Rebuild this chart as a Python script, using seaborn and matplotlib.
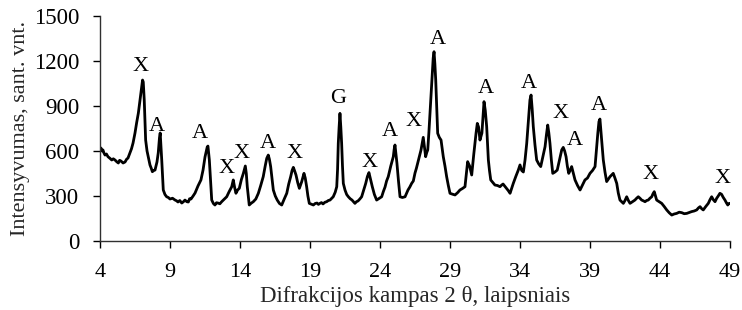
import matplotlib
matplotlib.use("Agg")
import matplotlib.pyplot as plt
import seaborn as sns
import pandas as pd

# 2-theta angle (degrees) and intensity
two_theta = [
    4.07, 4.14, 4.21, 4.29, 4.36, 4.46, 4.57, 4.7, 4.84, 4.95, 5.07, 5.2, 5.31, 5.4, 5.5, 5.65, 5.79,
    5.9, 6.0, 6.14, 6.25, 6.36, 6.5, 6.62, 6.74, 6.86, 6.93, 7.0, 7.04, 7.09, 7.16, 7.26, 7.36, 7.45,
    7.57, 7.66, 7.74, 7.84, 7.93, 8.07, 8.16, 8.25, 8.3, 8.41, 8.52, 8.64, 8.76, 8.88, 9.0, 9.18, 9.36,
    9.47, 9.57, 9.7, 9.84, 9.96, 10.07, 10.2, 10.31, 10.4, 10.5, 10.65, 10.79, 11.0, 11.21, 11.36, 11.5,
    11.66, 11.71, 11.81, 11.98, 12.1, 12.21, 12.32, 12.43, 12.56, 12.69, 12.87, 13.05, 13.23, 13.41,
    13.52, 13.61, 13.71, 13.83, 13.95, 14.1, 14.24, 14.38, 14.45, 14.52, 14.66, 14.8, 14.95, 15.13,
    15.31, 15.48, 15.66, 15.8, 15.91, 16.02, 16.1, 16.19, 16.38, 16.52, 16.66, 16.82, 16.98, 17.16,
    17.34, 17.48, 17.62, 17.72, 17.81, 17.9, 18.0, 18.12, 18.24, 18.41, 18.57, 18.66, 18.76, 18.85,
    18.95, 19.1, 19.24, 19.37, 19.5, 19.6, 19.71, 19.82, 19.93, 20.06, 20.19, 20.31, 20.43, 20.55,
    20.66, 20.8, 20.91, 20.97, 21.02, 21.08, 21.14, 21.2, 21.26, 21.32, 21.38, 21.5, 21.62, 21.74,
    21.87, 22.0, 22.1, 22.21, 22.32, 22.43, 22.56, 22.69, 22.84, 22.98, 23.1, 23.21, 23.33, 23.45,
    23.6, 23.76, 23.94, 24.12, 24.24, 24.36, 24.47, 24.59, 24.77, 24.95, 25.01, 25.07, 25.14, 25.21,
    25.32, 25.43, 25.6, 25.79, 26.0, 26.13, 26.26, 26.38, 26.5, 26.6, 26.69, 26.81, 26.93, 27.01,
    27.09, 27.18, 27.26, 27.34, 27.41, 27.49, 27.57, 27.66, 27.74, 27.8, 27.86, 27.92, 27.98, 28.05,
    28.12, 28.24, 28.36, 28.44, 28.52, 28.64, 28.76, 28.88, 29.0, 29.18, 29.36, 29.54, 29.71, 29.89,
    30.07, 30.17, 30.26, 30.4, 30.55, 30.7, 30.86, 30.95, 31.04, 31.14, 31.28, 31.43, 31.52, 31.62,
    31.74, 31.82, 31.91, 32.06, 32.21, 32.39, 32.57, 32.68, 32.79, 32.92, 33.05, 33.17, 33.29, 33.4,
    33.52, 33.7, 33.88, 34.0, 34.12, 34.24, 34.36, 34.48, 34.6, 34.71, 34.79, 34.87, 34.95, 35.07,
    35.19, 35.33, 35.48, 35.63, 35.79, 35.89, 35.98, 36.06, 36.14, 36.24, 36.34, 36.5, 36.66, 36.82,
    36.98, 37.09, 37.19, 37.29, 37.38, 37.48, 37.58, 37.69, 37.81, 37.93, 38.11, 38.29, 38.46, 38.64,
    38.82, 39.0, 39.18, 39.36, 39.48, 39.56, 39.64, 39.71, 39.79, 39.87, 39.95, 40.07, 40.19, 40.31,
    40.43, 40.55, 40.66, 40.78, 40.91, 41.02, 41.14, 41.26, 41.38, 41.5, 41.62, 41.74, 41.86, 42.03,
    42.21, 42.33, 42.45, 42.57, 42.69, 42.81, 42.93, 43.05, 43.16, 43.28, 43.41, 43.5, 43.59, 43.68,
    43.76, 43.94, 44.12, 44.3, 44.48, 44.66, 44.84, 45.01, 45.19, 45.37, 45.55, 45.73, 45.91, 46.08,
    46.26, 46.44, 46.62, 46.74, 46.86, 46.98, 47.09, 47.27, 47.45, 47.57, 47.69, 47.81, 47.93, 48.05,
    48.16, 48.28, 48.4, 48.52, 48.64, 48.74, 48.84, 48.92, 49.0,
]
intensity = [
    620, 600, 607, 585, 573, 580, 562, 552, 540, 548, 540, 528, 520, 538, 533, 520, 527,
    545, 553, 587, 615, 653, 720, 790, 853, 940, 987, 1040, 1073, 1060, 940, 673, 600, 560,
    507, 485, 462, 470, 473, 527, 587, 690, 720, 540, 340, 310, 295, 290, 280, 285, 273,
    268, 260, 270, 253, 262, 273, 262, 260, 282, 280, 300, 320, 367, 407, 473, 560,
    627, 633, 540, 273, 250, 240, 255, 253, 248, 262, 278, 295, 330, 362,
    407, 360, 318, 340, 351, 410, 451, 500, 450, 362, 240, 252, 262, 280,
    318, 370, 429, 500, 551, 573, 545, 496, 340, 300, 273, 250, 240, 280,
    318, 380, 429, 470, 491, 468, 440, 390, 351, 396, 451, 420, 362, 300,
    251, 245, 240, 250, 253, 244, 251, 256, 247, 258, 262, 270, 273, 285,
    295, 325, 362, 480, 651, 760, 851, 760, 651, 500, 384, 340, 310, 295,
    282, 273, 262, 251, 262, 267, 280, 295, 340, 384, 430, 456, 410, 362,
    310, 273, 284, 295, 330, 360, 400, 429, 500, 562, 610, 640, 580, 518,
    400, 295, 290, 295, 340, 360, 384, 400, 453, 485, 518, 560, 607, 650,
    691, 620, 562, 590, 607, 720, 851, 1000, 1140, 1220, 1262, 1180, 1073, 900,
    718, 690, 673, 620, 562, 500, 429, 370, 318, 312, 307, 322, 340, 350,
    362, 450, 529, 500, 440, 580, 718, 784, 760, 673, 720, 929, 870, 762,
    540, 470, 407, 390, 373, 370, 362, 372, 380, 365, 351, 335, 318, 350,
    384, 430, 473, 507, 470, 460, 540, 651, 800, 940, 973, 880, 762, 640,
    540, 515, 496, 560, 629, 710, 773, 720, 651, 540, 451, 460, 473, 540,
    607, 624, 600, 562, 500, 451, 470, 496, 450, 407, 370, 340, 372, 407,
    420, 451, 470, 496, 629, 720, 796, 813, 718, 630, 540, 460, 396, 412,
    429, 440, 451, 420, 384, 320, 273, 262, 251, 270, 295, 270, 251, 262,
    273, 285, 295, 285, 273, 268, 262, 270, 273, 285, 295, 315, 329, 300,
    273, 262, 251, 230, 207, 188, 173, 180, 184, 192, 189, 182, 184, 190,
    196, 200, 207, 220, 229, 215, 207, 230, 251, 275, 295, 275, 262, 285,
    300, 318, 311, 290, 273, 255, 240, 250, 251,
]

# phase labels (text, position)
label_text = ["X", "A", "A", "X", "X", "A", "X", "G", "X", "A", "X", "A", "A",
              "A", "X", "A", "A", "X", "X"]
label_x = [6.91, 8.05, 11.14, 13.05, 14.12, 16.02, 17.93, 21.02, 23.29, 24.71, 26.38,
           28.16, 31.57, 34.66, 36.9, 37.93, 39.64, 43.33, 48.45]
label_y = [1162, 762, 718, 484, 584, 651, 584, 951, 522, 729, 796,
           1344, 1018, 1051, 851, 673, 900, 444, 418]

x_ticks = [4, 9, 14, 19, 24, 29, 34, 39, 44, 49]
y_ticks = [0, 300, 600, 900, 1200, 1500]

sns.set_style("ticks")
plt.rcParams["font.family"] = ["Liberation Serif", "DejaVu Serif"]

fig = plt.figure(figsize=(7.42, 3.10), dpi=100)
ax = fig.add_axes([100 / 742, 1 - 241 / 310, 630 / 742, 225 / 310])

df = pd.DataFrame({"theta": two_theta, "I": intensity})
sns.lineplot(data=df, x="theta", y="I", ax=ax, color="black", linewidth=2.0,
             sort=False, estimator=None)

for t, lx, ly in zip(label_text, label_x, label_y):
    ax.text(lx, ly, t, ha="center", va="center", fontsize=16, color="black")

ax.set_xlim(4, 49)
ax.set_ylim(0, 1500)
ax.set_xticks(x_ticks)
ax.set_yticks(y_ticks)
ax.tick_params(axis="both", direction="out", length=5, width=1, colors="black")
ax.tick_params(axis="y", labelsize=16.5, pad=10)
ax.tick_params(axis="x", labelsize=16, pad=11)
for s in ["top", "right"]:
    ax.spines[s].set_visible(False)
for s in ["left", "bottom"]:
    ax.spines[s].set_color("#303030")
    ax.spines[s].set_linewidth(1)

ax.set_xlabel("Difrakcijos kampas 2 θ, laipsniais", fontsize=16.5, labelpad=3)
ax.set_ylabel("Intensyvumas, sant. vnt.", fontsize=16, labelpad=3)

fig.savefig("out.png", dpi=100)
